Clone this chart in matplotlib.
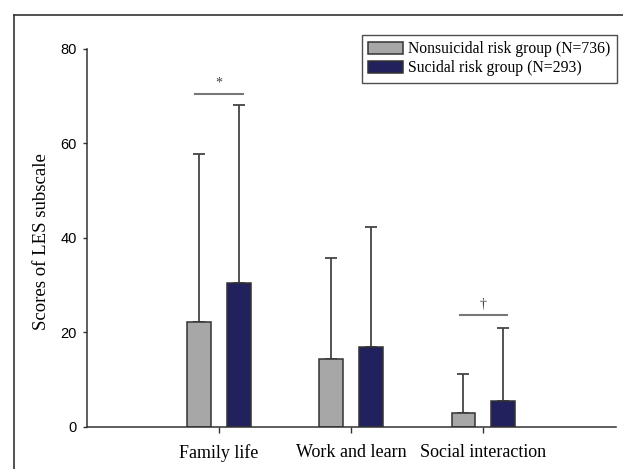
# LES subscale scores by suicide risk group
import matplotlib
matplotlib.use("Agg")
import matplotlib.pyplot as plt
import numpy as np
from matplotlib.lines import Line2D

plt.rcParams['font.family'] = 'Liberation Sans'

# data
categories = ["Family life", "Work and learn", "Social interaction"]
group_names = ["Nonsuicidal risk group (N=736)", "Sucidal risk group (N=293)"]
nonsuicidal_mean = [22.2, 14.3, 2.9]
nonsuicidal_sd = [35.6, 21.4, 8.4]
suicidal_mean = [30.5, 17.0, 5.5]
suicidal_sd = [37.6, 25.3, 15.4]
sig_marks = ["*", "", "\u2020"]
sig_heights = [70.4, None, 23.6]
y_ticks = [0, 20, 40, 60, 80]

GRAY = "#a7a7a7"
NAVY = "#21215e"
EDGE = "#333333"

fig = plt.figure(figsize=(6.23, 4.69), dpi=100)
ax = fig.add_axes([0.1393, 0.0896, 0.8488, 0.806])

x = np.arange(1, len(categories) + 1)
offset = 0.151
width = 0.18

ax.bar(x - offset, nonsuicidal_mean, width, color=GRAY, edgecolor=EDGE,
       linewidth=1.1, label=group_names[0], zorder=2)
ax.bar(x + offset, suicidal_mean, width, color=NAVY, edgecolor=EDGE,
       linewidth=1.1, label=group_names[1], zorder=2)

# upper error bars only
zeros = np.zeros(len(categories))
ax.errorbar(x - offset, nonsuicidal_mean, yerr=[zeros, nonsuicidal_sd],
            fmt="none", ecolor="#444444", elinewidth=1.3, capsize=4,
            capthick=1.3, zorder=1)
ax.errorbar(x + offset, suicidal_mean, yerr=[zeros, suicidal_sd],
            fmt="none", ecolor="#444444", elinewidth=1.3, capsize=4,
            capthick=1.3, zorder=1)

# significance lines
for xi, mark, h in zip(x, sig_marks, sig_heights):
    if h is None:
        continue
    ax.plot([xi - 0.18, xi + 0.18], [h, h], color="#777777", lw=1.5)
    ax.text(xi, h + 2.3, mark, ha="center", va="center", fontsize=10,
            family="Liberation Serif", color="#444444")

ax.set_xlim(0, 4)
ax.set_ylim(0, 80)
ax.set_yticks(y_ticks)
ax.set_xticks(x)
ax.set_xticklabels(categories, family="Liberation Serif", fontsize=13)
ax.tick_params(axis="y", labelsize=10.5, length=3, width=1, pad=4,
               color=EDGE)
ax.tick_params(axis="x", length=4, width=1, pad=8, color=EDGE)

for s in ["top", "right"]:
    ax.spines[s].set_visible(False)
for s in ["left", "bottom"]:
    ax.spines[s].set_color(EDGE)
    ax.spines[s].set_linewidth(1.1)

ax.set_ylabel("Scores of LES subscale", family="Liberation Serif",
              fontsize=13.5)
ax.yaxis.set_label_coords(-0.07, 0.49)

leg = ax.legend(loc="upper right", bbox_to_anchor=(617 / 623, 1 - 35 / 469),
                bbox_transform=fig.transFigure, borderaxespad=0,
                prop={"family": "Liberation Serif", "size": 11.3},
                frameon=True, fancybox=False, handlelength=2.2,
                handleheight=0.75, handletextpad=0.35, labelspacing=0.2,
                borderpad=0.4)
leg.get_frame().set_edgecolor("#222222")
leg.get_frame().set_linewidth(1.0)

# outer frame (only top and left edges fall inside the picture)
fig.add_artist(Line2D([14 / 623, 1.0], [1 - 15 / 469, 1 - 15 / 469],
                      transform=fig.transFigure, color="#333333", lw=1.2))
fig.add_artist(Line2D([14 / 623, 14 / 623], [0.0, 1 - 15 / 469],
                      transform=fig.transFigure, color="#333333", lw=1.2))

fig.savefig("out.png", dpi=100)
